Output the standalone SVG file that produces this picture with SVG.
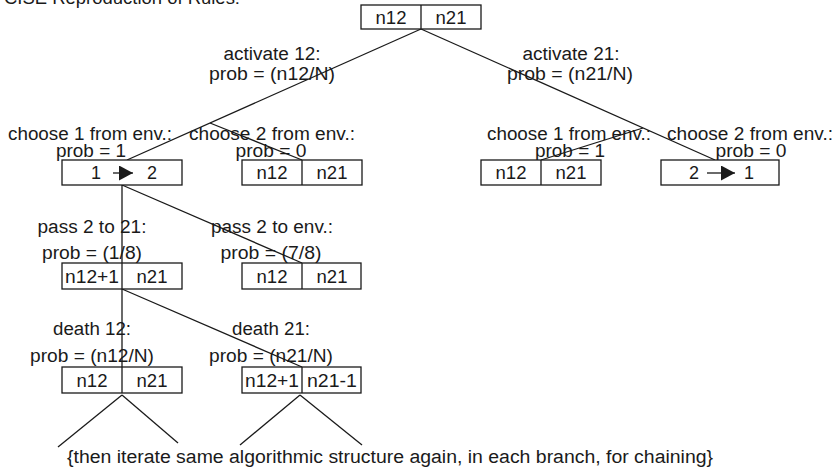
<svg xmlns="http://www.w3.org/2000/svg" width="838" height="471" viewBox="0 0 838 471">
  <style>
    text { font-family: "Liberation Sans", Arial, sans-serif; font-size: 18px; fill: #1a1a1a; }
    .c { text-anchor: middle; }
    .box { fill: #ffffff; stroke: #1a1a1a; stroke-width: 1.3; }
    .div { stroke: #1a1a1a; stroke-width: 1.3; }
    .edge { stroke: #1a1a1a; stroke-width: 1.3; fill: none; }
    .arr { stroke: #1a1a1a; stroke-width: 1.3; marker-end: url(#tri); }
  </style>
  <defs>
    <marker id="tri" markerUnits="userSpaceOnUse" markerWidth="14" markerHeight="15" refX="14" refY="7.5" orient="auto">
      <path d="M0,0 L14,7.5 L0,15 Z" fill="#1a1a1a"/>
    </marker>
  </defs>

  <rect width="838" height="471" fill="#ffffff"/>

  <!-- heading, mostly cut off at the top edge -->
  <text x="4" y="4" textLength="236" lengthAdjust="spacingAndGlyphs">CISE Reproduction of Rules:</text>

  <!-- tree branches -->
  <g id="connectors">
    <line class="edge" x1="421" y1="29" x2="127" y2="160"/>
    <line class="edge" x1="421" y1="29" x2="715" y2="160"/>
    <line class="edge" x1="210" y1="123" x2="302" y2="160"/>
    <line class="edge" x1="643" y1="128" x2="541" y2="160"/>
    <line class="edge" x1="122" y1="185" x2="122" y2="367"/>
    <line class="edge" x1="122" y1="185" x2="302" y2="263"/>
    <line class="edge" x1="122" y1="289" x2="302" y2="367"/>
    <line class="edge" x1="122" y1="395" x2="58" y2="447"/>
    <line class="edge" x1="122" y1="395" x2="178" y2="443"/>
    <line class="edge" x1="300" y1="395" x2="240" y2="445"/>
    <line class="edge" x1="300" y1="395" x2="362" y2="445"/>
  </g>

  <!-- branch labels -->
  <g id="labels">
    <text class="c" x="272" y="60" textLength="97" lengthAdjust="spacingAndGlyphs">activate 12:</text>
    <text class="c" x="272" y="80" textLength="126" lengthAdjust="spacingAndGlyphs">prob = (n12/N)</text>
    <text class="c" x="571" y="60" textLength="97" lengthAdjust="spacingAndGlyphs">activate 21:</text>
    <text class="c" x="570" y="80" textLength="126" lengthAdjust="spacingAndGlyphs">prob = (n21/N)</text>

    <text class="c" x="90" y="140" textLength="164" lengthAdjust="spacingAndGlyphs">choose 1 from env.:</text>
    <text class="c" x="91" y="157" textLength="70" lengthAdjust="spacingAndGlyphs">prob = 1</text>
    <text class="c" x="272" y="140" textLength="166" lengthAdjust="spacingAndGlyphs">choose 2 from env.:</text>
    <text class="c" x="271" y="157" textLength="71" lengthAdjust="spacingAndGlyphs">prob = 0</text>
    <text class="c" x="569" y="140" textLength="164" lengthAdjust="spacingAndGlyphs">choose 1 from env.:</text>
    <text class="c" x="570" y="157" textLength="70" lengthAdjust="spacingAndGlyphs">prob = 1</text>
    <text class="c" x="750" y="140" textLength="166" lengthAdjust="spacingAndGlyphs">choose 2 from env.:</text>
    <text class="c" x="751" y="157" textLength="71" lengthAdjust="spacingAndGlyphs">prob = 0</text>

    <text class="c" x="92" y="233" textLength="109" lengthAdjust="spacingAndGlyphs">pass 2 to 21:</text>
    <text class="c" x="92" y="259" textLength="100" lengthAdjust="spacingAndGlyphs">prob = (1/8)</text>
    <text class="c" x="272" y="233" textLength="122" lengthAdjust="spacingAndGlyphs">pass 2 to env.:</text>
    <text class="c" x="271" y="259" textLength="101" lengthAdjust="spacingAndGlyphs">prob = (7/8)</text>

    <text class="c" x="92" y="335" textLength="78" lengthAdjust="spacingAndGlyphs">death 12:</text>
    <text class="c" x="92" y="362" textLength="124" lengthAdjust="spacingAndGlyphs">prob = (n12/N)</text>
    <text class="c" x="271" y="335" textLength="78" lengthAdjust="spacingAndGlyphs">death 21:</text>
    <text class="c" x="271" y="362" textLength="124" lengthAdjust="spacingAndGlyphs">prob = (n21/N)</text>
  </g>

  <!-- state boxes -->
  <g id="root">
    <rect class="box" x="361" y="5" width="120" height="24"/>
    <line class="div" x1="421" y1="5" x2="421" y2="29"/>
    <text class="c" x="391" y="24" textLength="31" lengthAdjust="spacingAndGlyphs">n12</text>
    <text class="c" x="451" y="24" textLength="31" lengthAdjust="spacingAndGlyphs">n21</text>
  </g>

  <g id="transfer12">
    <rect class="box" x="62" y="160" width="120" height="25"/>
    <text class="c" x="96" y="179">1</text>
    <line class="arr" x1="113" y1="173" x2="133" y2="173"/>
    <text class="c" x="152" y="179">2</text>
  </g>

  <g id="noChange12">
    <rect class="box" x="242" y="160" width="120" height="25"/>
    <line class="div" x1="302" y1="160" x2="302" y2="185"/>
    <text class="c" x="272" y="179" textLength="31" lengthAdjust="spacingAndGlyphs">n12</text>
    <text class="c" x="332" y="179" textLength="31" lengthAdjust="spacingAndGlyphs">n21</text>
  </g>

  <g id="noChange21">
    <rect class="box" x="481" y="160" width="120" height="25"/>
    <line class="div" x1="541" y1="160" x2="541" y2="185"/>
    <text class="c" x="511" y="179" textLength="31" lengthAdjust="spacingAndGlyphs">n12</text>
    <text class="c" x="571" y="179" textLength="31" lengthAdjust="spacingAndGlyphs">n21</text>
  </g>

  <g id="transfer21">
    <rect class="box" x="661" y="160" width="118" height="25"/>
    <text class="c" x="694" y="179">2</text>
    <line class="arr" x1="707" y1="173" x2="735" y2="173"/>
    <text class="c" x="749" y="179">1</text>
  </g>

  <g id="passTo21">
    <rect class="box" x="62" y="263" width="120" height="26"/>
    <line class="div" x1="122" y1="263" x2="122" y2="289"/>
    <text class="c" x="92" y="283" textLength="54" lengthAdjust="spacingAndGlyphs">n12+1</text>
    <text class="c" x="152" y="283" textLength="31" lengthAdjust="spacingAndGlyphs">n21</text>
  </g>

  <g id="passToEnv">
    <rect class="box" x="242" y="263" width="119" height="26"/>
    <line class="div" x1="302" y1="263" x2="302" y2="289"/>
    <text class="c" x="272" y="283" textLength="31" lengthAdjust="spacingAndGlyphs">n12</text>
    <text class="c" x="332" y="283" textLength="31" lengthAdjust="spacingAndGlyphs">n21</text>
  </g>

  <g id="death12">
    <rect class="box" x="62" y="367" width="120" height="26"/>
    <line class="div" x1="122" y1="367" x2="122" y2="393"/>
    <text class="c" x="92" y="387" textLength="31" lengthAdjust="spacingAndGlyphs">n12</text>
    <text class="c" x="152" y="387" textLength="31" lengthAdjust="spacingAndGlyphs">n21</text>
  </g>

  <g id="death21">
    <rect class="box" x="242" y="367" width="119" height="26"/>
    <line class="div" x1="302" y1="367" x2="302" y2="393"/>
    <text class="c" x="272" y="387" textLength="54" lengthAdjust="spacingAndGlyphs">n12+1</text>
    <text class="c" x="332" y="387" textLength="50" lengthAdjust="spacingAndGlyphs">n21-1</text>
  </g>

  <text x="67" y="463" textLength="646" lengthAdjust="spacingAndGlyphs">{then iterate same algorithmic structure again, in each branch, for chaining}</text>
</svg>
